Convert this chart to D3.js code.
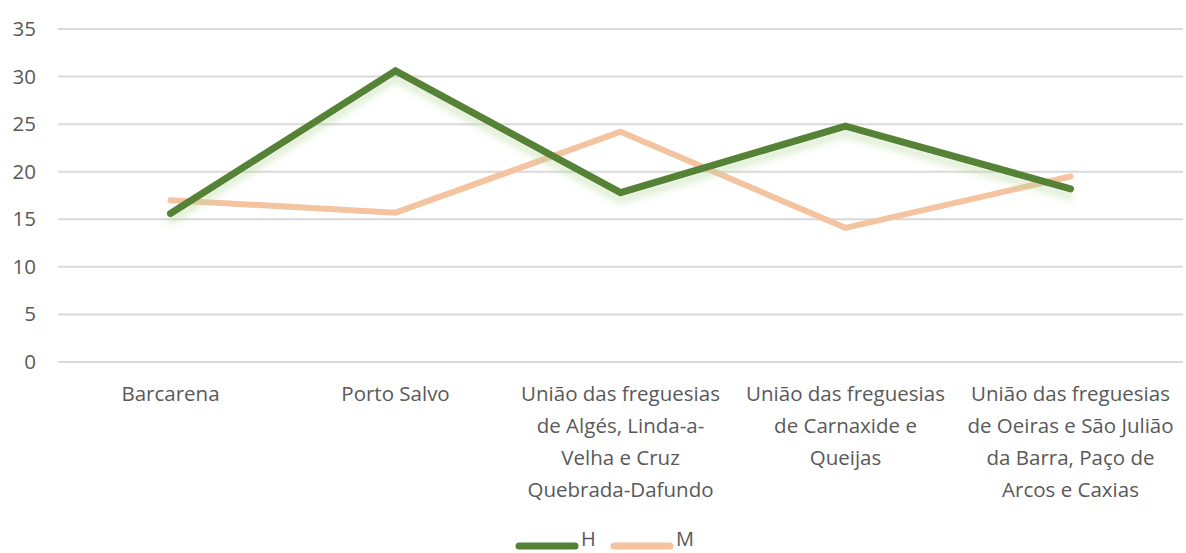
<!DOCTYPE html>
<html>
<head>
<meta charset="utf-8">
<script src="https://cdn.jsdelivr.net/npm/d3@7"></script>
<style>
  body { margin: 0; background: #fff; }
  svg text { font-family: 'Open Sans', sans-serif; fill: #595959; }
</style>
</head>
<body>
<div id="chart"></div>
<script>
(function () {
	// data
	var categories = [
		'Barcarena',
		'Porto Salvo',
		'União das freguesias\nde Algés, Linda-a-\nVelha e Cruz\nQuebrada-Dafundo',
		'União das freguesias\nde Carnaxide e\nQueijas',
		'União das freguesias\nde Oeiras e São Julião\nda Barra, Paço de\nArcos e Caxias'
	];
	var valuesH = [15.6, 30.6, 17.8, 24.8, 18.2];
	var valuesM = [17.0, 15.7, 24.2, 14.1, 19.5];
	var yTicks = [0, 5, 10, 15, 20, 25, 30, 35];
	var seriesNames = ['H', 'M'];
	var seriesColors = ['#548235', '#F4C3A0'];

	var width = 1186, height = 553;
	var margin = { top: 29, right: 3, bottom: 191, left: 58 };
	var fontSize = 20.5;

	var svg = d3.select('#chart').append('svg')
		.attr('width', width).attr('height', height);

	var defs = svg.append('defs');
	var glow = defs.append('filter').attr('id', 'glow')
		.attr('x', '-10%').attr('y', '-20%').attr('width', '120%').attr('height', '160%');
	glow.append('feOffset').attr('in', 'SourceAlpha').attr('dx', 0).attr('dy', 7).attr('result', 'off');
	glow.append('feGaussianBlur').attr('in', 'off').attr('stdDeviation', 3.5).attr('result', 'blur');
	glow.append('feFlood').attr('flood-color', '#B5D99C').attr('flood-opacity', 0.5);
	glow.append('feComposite').attr('in2', 'blur').attr('operator', 'in').attr('result', 'shadow');
	var merge = glow.append('feMerge');
	merge.append('feMergeNode').attr('in', 'shadow');
	merge.append('feMergeNode').attr('in', 'SourceGraphic');

	var x = d3.scaleBand()
		.domain(categories)
		.range([margin.left, width - margin.right]);
	var y = d3.scaleLinear()
		.domain([0, 35])
		.range([height - margin.bottom, margin.top]);

	// gridlines
	svg.append('g').classed('grid', true)
		.selectAll('line')
		.data(yTicks)
		.enter().append('line')
		.attr('x1', margin.left)
		.attr('x2', width - margin.right)
		.attr('y1', d => y(d))
		.attr('y2', d => y(d))
		.attr('stroke', '#D9D9D9')
		.attr('stroke-width', 2);

	// y axis labels
	var yAxis = svg.append('g')
		.attr('transform', 'translate(' + (margin.left - 22) + ',0)')
		.call(d3.axisLeft(y).tickValues(yTicks).tickSize(0).tickPadding(0));
	yAxis.select('.domain').remove();
	yAxis.selectAll('text')
		.attr('font-size', fontSize)
		.attr('fill', '#595959')
		.style('font-family', null);

	// x axis labels, multi-line
	var xAxis = svg.append('g')
		.attr('transform', 'translate(0,' + y(0) + ')')
		.call(d3.axisBottom(x).tickSize(0).tickFormat(''));
	xAxis.select('.domain').remove();
	xAxis.selectAll('.tick').each(function (d) {
		var t = d3.select(this).select('text')
			.attr('font-size', fontSize)
			.attr('fill', '#595959')
			.attr('y', 0)
			.attr('dy', null)
			.style('font-family', null)
			.text(null);
		d.split('\n').forEach((line, i) => {
			t.append('tspan')
				.attr('x', 0)
				.attr('y', 39 + i * 32)
				.text(line);
		});
	});

	// series lines
	var line = d3.line()
		.x((d, i) => x(categories[i]) + x.bandwidth() / 2)
		.y(d => y(d));

	var series = [valuesM, valuesH];
	var seriesStyle = [
		{ color: seriesColors[1], width: 6, filter: null },
		{ color: seriesColors[0], width: 7, filter: 'url(#glow)' }
	];
	svg.append('g').classed('lines', true)
		.selectAll('path')
		.data(series)
		.enter().append('path')
		.attr('d', d => line(d))
		.attr('fill', 'none')
		.attr('stroke', (d, i) => seriesStyle[i].color)
		.attr('stroke-width', (d, i) => seriesStyle[i].width)
		.attr('stroke-linecap', 'round')
		.attr('stroke-linejoin', 'miter')
		.attr('filter', (d, i) => seriesStyle[i].filter);

	// legend
	var legend = svg.append('g').classed('legend', true)
		.attr('transform', 'translate(519,546)');
	var items = legend.selectAll('g')
		.data(seriesNames)
		.enter().append('g')
		.attr('transform', (d, i) => 'translate(' + (i * 95) + ',0)');
	items.append('line')
		.attr('x1', 0).attr('x2', 56)
		.attr('stroke', (d, i) => seriesColors[i])
		.attr('stroke-width', 7)
		.attr('stroke-linecap', 'round');
	items.append('text')
		.attr('x', 62)
		.attr('y', 0)
		.attr('font-size', 20)
		.text(d => d);
})();
</script>
</body>
</html>
